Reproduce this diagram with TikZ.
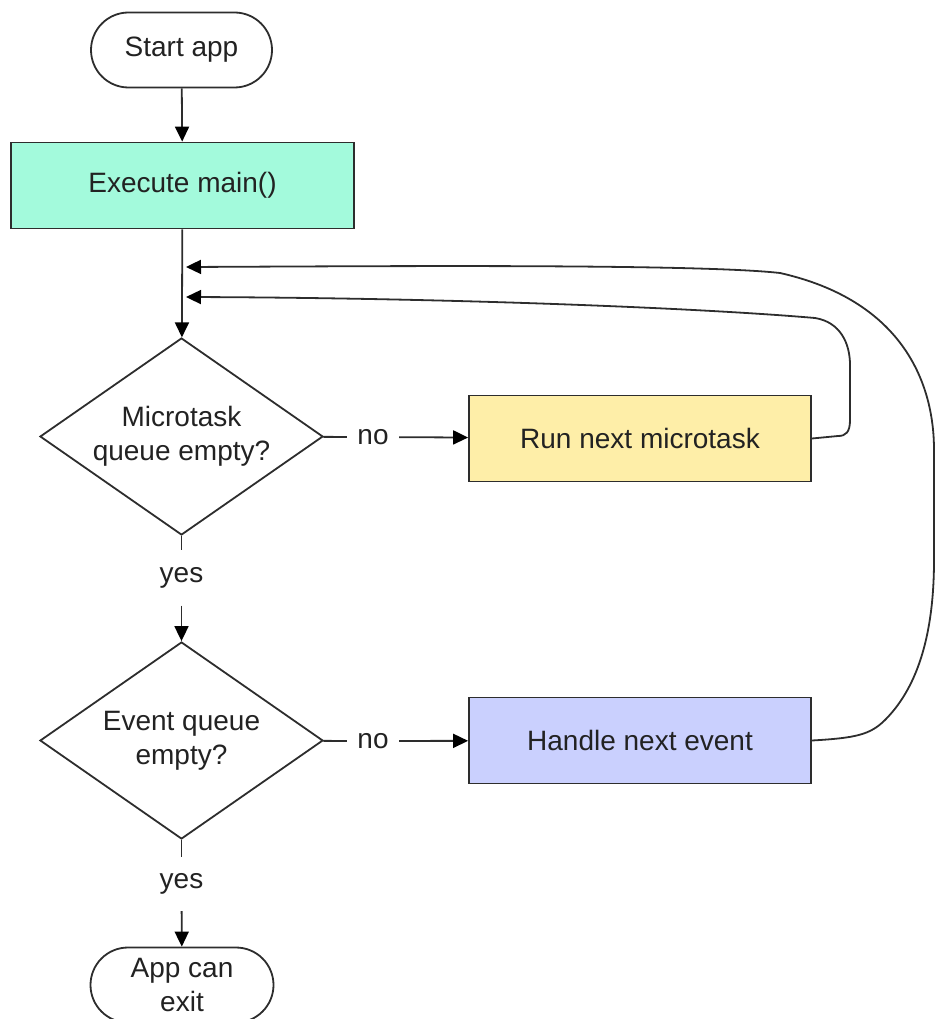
\documentclass[tikz,border=0pt]{standalone}
\usepackage{fontspec}
\setmainfont{Liberation Sans}
\usetikzlibrary{shapes.geometric,shapes.misc,arrows.meta}
\definecolor{mintfill}{RGB}{163,250,220}
\definecolor{yellowfill}{RGB}{254,238,168}
\definecolor{lavfill}{RGB}{202,208,254}
\definecolor{edge}{RGB}{45,45,45}
\definecolor{ink}{RGB}{34,34,34}
\tikzset{
  base/.style={draw=edge, line width=1.8pt, text=ink, font=\fontsize{28}{34}\selectfont, align=center, inner sep=0pt},
  terminal/.style={base, rounded rectangle, minimum width=181pt, minimum height=75pt},
  process/.style={base, rectangle, minimum width=342pt, minimum height=86pt},
  decision/.style={base, diamond, aspect=1.44, minimum width=283pt, minimum height=197pt},
  lbl/.style={text=ink, font=\fontsize{28}{34}\selectfont, inner sep=0pt},
  flow/.style={draw=edge, line width=1.8pt, -{Triangle[length=15pt,width=14pt,color=black]}},
  plain/.style={draw=edge, line width=1.8pt},
}
\begin{document}
\begin{tikzpicture}[x=1pt,y=-1pt]
\useasboundingbox (0,0) rectangle (936,1019);
\clip (0,0) rectangle (936,1019);

% boxes
\node[terminal] (start) at (181.5,50) {Start app};
\node[process, fill=mintfill, minimum width=343pt] (exec) at (182.5,185.5) {Execute main()};
\node[decision] (d1) at (181.5,436.5) {Microtask\\queue empty?};
\node[process, fill=yellowfill] (mt) at (640,438.5) {Run next microtask};
\node[decision] (d2) at (181.5,740.5) {Event queue\\empty?};
\node[process, fill=lavfill] (he) at (640,740.5) {Handle next event};
\node[terminal, minimum width=183pt] (exit) at (182,985) {App can\\exit};

% branch labels
\node[lbl, minimum width=52pt] (no1) at (373,437) {no};
\node[lbl, minimum width=52pt] (no2) at (373,741) {no};
\node[lbl, minimum height=55pt] (yes1) at (181.5,578) {yes};
\node[lbl, minimum height=54pt] (yes2) at (181.5,884) {yes};

% loop return points on the main line
\coordinate (r1) at (186,267);
\coordinate (r2) at (186,297);

% main flow
\draw[flow] (start) -- (exec);
\draw[flow] (exec) -- (d1);
\draw[plain] (d1) -- (no1);
\draw[flow] (no1) -- (mt);
\draw[plain] (d1) -- (yes1);
\draw[flow] (yes1) -- (d2);
\draw[plain] (d2) -- (no2);
\draw[flow] (no2) -- (he);
\draw[plain] (d2) -- (yes2);
\draw[flow] (yes2) -- (exit);

% microtask loop back
\draw[flow] (mt.east) -- (838,436)
  .. controls (846,436) and (850,432) .. (850,420) -- (850,365)
  .. controls (850,343) and (840,322) .. (815,318)
  .. controls (700,308) and (450,298) .. (r2);

% event loop back
\draw[flow] (he.east) .. controls (855,738) and (870,735) .. (885,720)
  .. controls (915,690) and (934,640) .. (934,560) -- (934,450)
  .. controls (934,380) and (900,300) .. (780,273)
  .. controls (700,264) and (400,266) .. (r1);
\end{tikzpicture}
\end{document}
